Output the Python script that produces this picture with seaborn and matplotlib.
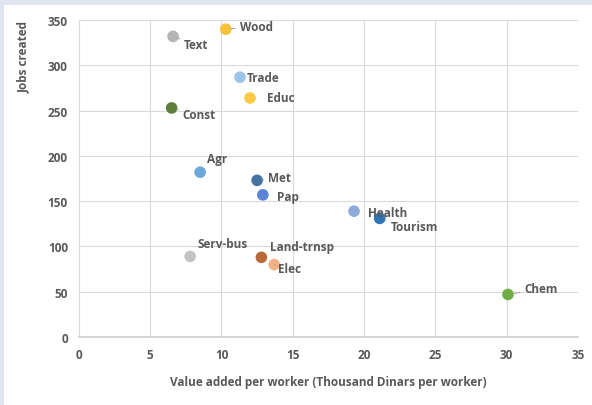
import matplotlib
matplotlib.use("Agg")
import matplotlib.pyplot as plt
import seaborn as sns
import pandas as pd
from matplotlib.patches import Rectangle

sectors = ["Wood", "Text", "Trade", "Educ", "Const", "Agr", "Met", "Pap",
           "Health", "Tourism", "Serv-bus", "Land-trnsp", "Elec", "Chem"]
value_added = [10.3, 6.6, 11.3, 12.0, 6.5, 8.5, 12.5, 12.9,
               19.3, 21.1, 7.8, 12.8, 13.7, 30.1]
jobs = [340, 332, 287, 264, 253, 182, 173, 157,
        139, 131, 89, 88, 80, 47]
colors = ["#f5c33b", "#b4b4b4", "#9dc3e6", "#fbcb45", "#5e7f3c", "#6fa8dc",
          "#46739f", "#5b84d6", "#8eaadb", "#2e75b6", "#c3c3c3", "#b96a3a",
          "#f4b183", "#70ad47"]
# label offsets in points, and whether a leader line is drawn
offsets = [(10, 2), (8, -6), (5, 0), (12, 0), (8, -5), (5, 10), (8, 2), (10, -1),
           (10, -1), (8, -6), (5, 9), (6, 8), (3, -3), (12, 4)]
leaders = [True, True, False, False, True, False, True, False,
           False, True, False, False, True, True]

df = pd.DataFrame({"sector": sectors, "x": value_added, "y": jobs})

sns.set_theme(style="white")
plt.rcParams["font.family"] = ["Open Sans", "DejaVu Sans"]

fig = plt.figure(figsize=(5.92, 4.06), dpi=100)
fig.patch.set_facecolor("white")
fig.patches.append(Rectangle((0, 0.985), 1, 0.015, transform=fig.transFigure,
                             facecolor="#dfe6ef", edgecolor="none", zorder=0))
fig.patches.append(Rectangle((0, 0), 0.006, 1, transform=fig.transFigure,
                             facecolor="#dfe6ef", edgecolor="none", zorder=0))

ax = fig.add_axes([0.1334, 0.1675, 0.8426, 0.7805])
sns.scatterplot(data=df, x="x", y="y", hue="sector", palette=colors,
                s=70, edgecolor="none", legend=False, ax=ax, zorder=3)

for name, x, y, off, lead in zip(sectors, value_added, jobs, offsets, leaders):
    ax.annotate(name, (x, y), xytext=off, textcoords="offset points",
                fontsize=8.5, fontweight="bold", color="#595959",
                ha="left", va="center",
                arrowprops=dict(arrowstyle="-", color="#a6a6a6", lw=0.8,
                                shrinkA=1, shrinkB=4) if lead else None,
                zorder=4)

ax.set_xlim(0, 35)
ax.set_ylim(0, 350)
ax.set_xticks(range(0, 36, 5))
ax.set_yticks(range(0, 351, 50))
ax.grid(True, color="#d9d9d9", lw=0.8)
ax.set_axisbelow(True)
for side in ["top", "right", "left"]:
    ax.spines[side].set_visible(False)
ax.spines["bottom"].set_color("#d0d0d0")
ax.tick_params(axis="both", labelsize=8.5, colors="#595959", length=0, pad=8)
for lab in ax.get_xticklabels() + ax.get_yticklabels():
    lab.set_fontweight("bold")
ax.set_xlabel("Value added per worker (Thousand Dinars per worker)",
              fontsize=8.5, fontweight="bold", color="#595959", labelpad=10)
ax.set_ylabel("Jobs created", fontsize=8.5, fontweight="bold",
              color="#595959", loc="top")
ax.yaxis.set_label_coords(-0.098, 1.0)

fig.savefig("out.png", dpi=100)
